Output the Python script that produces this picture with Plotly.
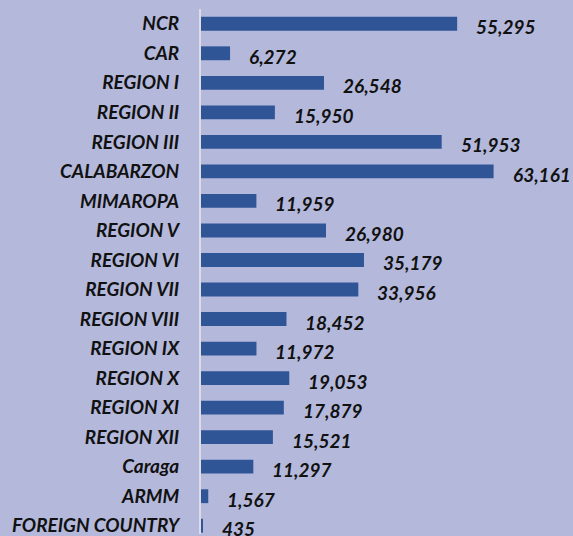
import plotly.graph_objects as go

categories = ["NCR", "CAR", "REGION I", "REGION II", "REGION III", "CALABARZON",
              "MIMAROPA", "REGION V", "REGION VI", "REGION VII", "REGION VIII",
              "REGION IX", "REGION X", "REGION XI", "REGION XII", "Caraga",
              "ARMM", "FOREIGN COUNTRY"]
values = [55295, 6272, 26548, 15950, 51953, 63161, 11959, 26980, 35179, 33956,
          18452, 11972, 19053, 17879, 15521, 11297, 1567, 435]
value_labels = [f"{v:,}" for v in values]

BG = "#B4B9DC"
BAR = "#2F5597"
FONT = "Lato"
FS = 19

fig = go.Figure(go.Bar(
    x=values, y=categories, orientation="h",
    marker=dict(color=BAR, line=dict(width=0)),
    width=0.47,
))

for v, c, t in zip(values, categories, value_labels):
    fig.add_annotation(x=v, y=c, text=f"<b><i>{t}</i></b>", showarrow=False,
                       xanchor="left", xshift=17, yshift=-3,
                       font=dict(family=FONT, size=FS, color="#111111"))

fig.update_layout(
    width=573, height=536,
    margin=dict(l=201, r=0, t=9, b=0),
    paper_bgcolor=BG, plot_bgcolor=BG,
    showlegend=False,
    bargap=0.5,
)
fig.update_xaxes(range=[0, 80300], showgrid=False, showticklabels=False,
                 zeroline=False, showline=False, ticks="")
fig.update_yaxes(categoryorder="array", categoryarray=categories,
                 tickmode="array", tickvals=categories,
                 ticktext=[f"<b><i>{c}</i></b>" for c in categories],
                 range=[17.28, -0.5], autorange=False,
                 showgrid=False, zeroline=False,
                 showline=True, linecolor="#DCDCE6", linewidth=2,
                 ticks="", ticklabelstandoff=16,
                 tickfont=dict(family=FONT, size=FS, color="#111111"))

fig.write_html("out.html", config={"displayModeBar": False},
               post_script="document.body.style.margin='0';document.body.style.padding='0';document.body.style.background='" + BG + "';")
